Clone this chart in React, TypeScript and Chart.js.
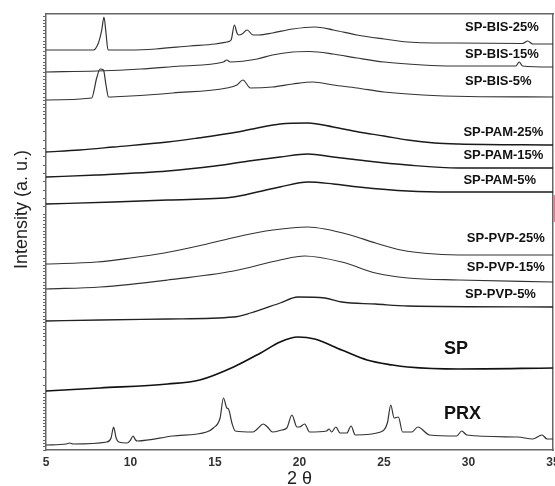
import React, { useEffect, useRef } from "react";
import { Chart, registerables } from "chart.js";
Chart.register(...registerables);

type P = [number, number];

// 2θ vs. stacked intensity (a.u., offset per trace)
const BIS25: P[] = [[5,400],[7.5,400],[7.8,400],[8.1,407],[8.3,420],[8.43,433],[8.55,417],[8.67,400],[10,400],[11.5,401],[13.5,404],[15,406],[15.7,408],[15.95,410],[16.15,425],[16.3,417],[16.4,415],[16.6,416],[16.9,420],[17.25,415],[17.6,415],[18.4,417],[19.6,421],[20.9,423],[22,420],[23.4,415],[25,411],[26.4,408],[28,407],[29.3,407],[33.2,406.5],[33.5,409],[33.8,406],[35,406]];
const BIS15: P[] = [[5,378],[8,379],[10.6,381],[13,384],[15.5,388],[15.7,390],[15.9,388],[17.5,391],[18.4,395],[19.6,398],[20.6,398.5],[22,396],[23.4,392],[25,388],[27.3,385],[29,384],[31.3,384],[32.8,384],[33,388],[33.2,384],[35,383]];
const BIS5: P[] = [[5,350],[7.7,352],[8.0,372],[8.2,381],[8.4,380],[8.55,365],[8.7,353],[10,354],[12.5,357],[15.7,362],[16.3,365],[16.65,370],[17.1,362],[18.4,363],[19.6,366],[20.8,368],[22,365],[23.4,362],[25,358],[27.3,355],[30,353.5],[35,353]];
const PAM25: P[] = [[5,298],[7,300],[9,303],[12.2,308],[14,312],[16,317],[17.5,322],[18.85,326],[20.5,327],[22,323],[23.5,318],[25,314],[26.4,310],[28,307],[29.4,306],[35,305]];
const PAM15: P[] = [[5,273],[8,275],[12.2,279],[15,284],[17,289],[18.85,293],[20.5,296],[22,293],[23.5,290],[26.4,285],[29.4,282],[35,282]];
const PAM5: P[] = [[5,246],[9,248],[12.2,250],[16.1,253],[17.5,258],[18.85,263],[20.5,268],[22,266],[23.5,263],[26.4,259],[29,258],[35,258]];
const PVP25: P[] = [[5,186],[8,188],[10,192],[12,197],[14,204],[16,212],[18,219],[19.5,222],[20.5,223],[21.5,221],[23,215],[24.5,207],[26,200],[28,196],[30,195],[35,195]];
const PVP15: P[] = [[5,161],[8.2,163],[12.2,170],[16.1,179],[18.85,190],[20.3,194],[22.5,188],[24.5,177],[26.4,172],[29.4,170],[35,168]];
const PVP5: P[] = [[5,129],[8.2,130],[12.2,131],[16.1,133],[17.1,137],[18.85,147],[19.9,153],[21.5,152],[22.5,148],[24.5,146],[26.4,144],[35,143]];
const SP: P[] = [[5,59],[8.2,62],[12.2,66],[14.1,70],[16.1,83],[17.7,97],[18.85,108],[19.9,113],[20.9,111],[22.5,100],[24,90],[25.5,85],[26.4,83],[29.4,81],[35,82]];
const PRX: P[] = [[5,5],[6.2,6],[6.4,7],[6.6,6],[8.6,8],[8.85,12],[9.0,23],[9.15,12],[9.3,8],[9.8,7],[10.0,10],[10.15,14],[10.3,10],[10.4,9],[12.5,14],[14.5,18],[14.9,22],[15.3,32],[15.5,52],[15.7,42],[15.8,41],[16.0,27],[16.2,19],[17.25,18],[17.5,21],[17.85,26],[18.1,23],[18.4,18],[18.95,20],[19.25,22],[19.55,35],[19.85,23],[20.0,23],[20.3,26],[20.6,18],[21.6,19],[21.75,21],[21.9,18],[22.15,23],[22.4,17],[22.8,17],[23.05,24],[23.3,15],[24.8,18],[25.2,27],[25.4,45],[25.6,32],[25.85,33],[26.1,18],[26.65,18],[27.0,23],[27.7,15],[29.3,14],[29.6,19],[29.9,15],[32.9,13],[33.8,11],[34.35,15],[34.65,11],[35,11]];
const MARK: P[] = [[35.08,255],[35.08,228]];

const LABEL_TEXT = ["SP-BIS-25%","SP-BIS-15%","SP-BIS-5%","SP-PAM-25%","SP-PAM-15%","SP-PAM-5%","SP-PVP-25%","SP-PVP-15%","SP-PVP-5%","SP","PRX"];
const LABEL_X = [29.8,29.8,29.8,29.7,29.7,29.7,29.9,29.9,29.8,28.55,28.55];
const LABEL_Y = [423,396,369,318,295,270,212,183,156,101,36];

const FAMILY = "Arial, 'Liberation Sans', sans-serif";
const LABEL_SIZE = [13,13,13,13,13,13,13,13,13,18,18];

const SERIES = [
  { data: BIS25, color: "#333", width: 1.2 },
  { data: BIS15, color: "#333", width: 1.2 },
  { data: BIS5, color: "#333", width: 1.2 },
  { data: PAM25, color: "#1a1a1a", width: 1.4 },
  { data: PAM15, color: "#1a1a1a", width: 1.4 },
  { data: PAM5, color: "#1a1a1a", width: 1.4 },
  { data: PVP25, color: "#333", width: 1.2 },
  { data: PVP15, color: "#333", width: 1.2 },
  { data: PVP5, color: "#222", width: 1.3 },
  { data: SP, color: "#111", width: 1.7 },
  { data: PRX, color: "#333", width: 1.2 },
];

const Y_TICK_RANGES = [[0, 57, 3.3], [57, 110, 8], [110, 235, 3.4], [235, 332, 8.3], [332, 436, 3.5]];
const Y_TICKS: number[] = [];
Y_TICK_RANGES.forEach(([a, b, s]) => { for (let v = a; v < b; v += s) Y_TICKS.push(v); });

const labelPlugin = {
  id: "traceLabels",
  afterDatasetsDraw(chart: any) {
    const { ctx, scales } = chart;
    ctx.save();
    ctx.fillStyle = "#111";
    ctx.textBaseline = "middle";
    ctx.textAlign = "left";
    LABEL_TEXT.forEach((t, i) => {
      ctx.font = `bold ${LABEL_SIZE[i]}px ${FAMILY}`;
      ctx.fillText(t, scales.x.getPixelForValue(LABEL_X[i]), scales.y.getPixelForValue(LABEL_Y[i]));
    });
    ctx.restore();
  },
};

export default function App() {
  const ref = useRef<HTMLCanvasElement>(null);
  useEffect(() => {
    const datasets: any[] = SERIES.map((s) => ({
      data: s.data,
      borderColor: s.color,
      borderWidth: s.width,
      pointRadius: 0,
      cubicInterpolationMode: "monotone",
      fill: false,
    }));
    datasets.push({ data: MARK, borderColor: "#e8738a", borderWidth: 2, pointRadius: 0, clip: false });
    const chart = new Chart(ref.current!, {
      type: "line",
      data: { datasets },
      plugins: [labelPlugin],
      options: {
        animation: false,
        responsive: false,
        devicePixelRatio: 1,
        parsing: true,
        layout: { padding: { top: 14, right: 2, left: 0, bottom: 0 } },
        plugins: { legend: { display: false }, tooltip: { enabled: false } },
        scales: {
          x: {
            type: "linear", min: 5, max: 35, position: "bottom",
            afterFit: (s: any) => { s.height = 36; s.paddingRight = 0; s.paddingLeft = 0; },
            ticks: { stepSize: 5, padding: 5, color: "#333", maxRotation: 0, font: { size: 12, weight: "bold", family: FAMILY } },
            grid: { drawOnChartArea: false, drawTicks: false },
            border: { color: "#666", width: 1.5 },
            title: { display: true, text: "2 θ", color: "#222", font: { size: 18, family: FAMILY, lineHeight: 0.8 }, padding: 0 },
          },
          xTop: {
            type: "linear", min: 5, max: 35, position: "top",
            afterFit: (s: any) => { s.height = 0; },
            ticks: { display: false },
            grid: { drawOnChartArea: false, drawTicks: false },
            border: { color: "#666", width: 1.5 },
          },
          y: {
            type: "linear", min: 0, max: 436, position: "left",
            afterFit: (s: any) => { s.width = 46; },
            afterBuildTicks: (s: any) => { s.ticks = Y_TICKS.map((v) => ({ value: v })); },
            ticks: { display: false },
            grid: { drawOnChartArea: false, drawTicks: true, tickLength: 3, color: "#666", lineWidth: 1 },
            border: { color: "#666", width: 1.5 },
            title: { display: true, text: "         Intensity (a. u.)", color: "#222", font: { size: 18, family: FAMILY }, padding: { top: 11, bottom: 0 } },
          },
          yRight: {
            type: "linear", min: 0, max: 436, position: "right",
            afterFit: (s: any) => { s.width = 0; },
            ticks: { display: false },
            grid: { drawOnChartArea: false, drawTicks: false },
            border: { color: "#666", width: 1.5 },
          },
        },
      } as any,
    });
    return () => chart.destroy();
  }, []);
  return (
    <canvas ref={ref} width={555} height={486} style={{ position: "absolute", left: 0, top: 0, width: 555, height: 486 }} />
  );
}
